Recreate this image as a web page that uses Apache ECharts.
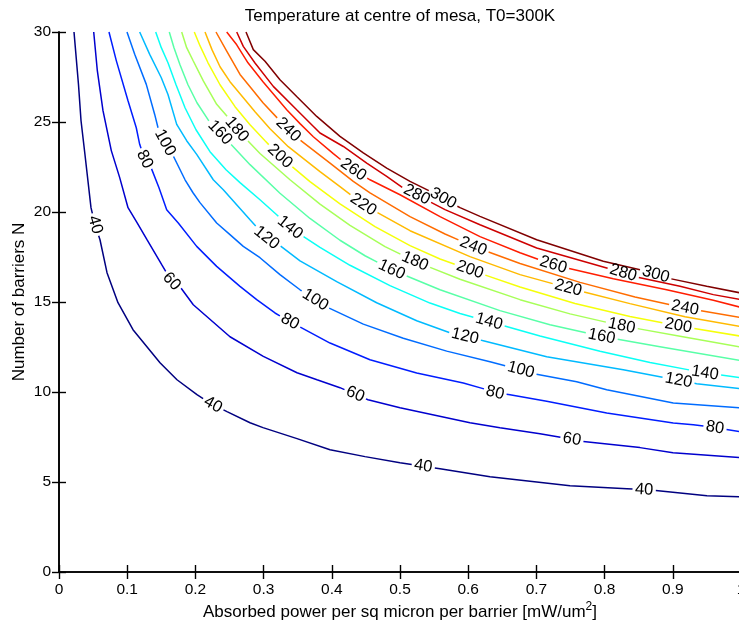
<!DOCTYPE html>
<html>
<head>
<meta charset="utf-8">
<title>Temperature at centre of mesa</title>
<script src="https://cdn.jsdelivr.net/npm/echarts@6/dist/echarts.min.js"></script>
<style>
  html, body { margin: 0; padding: 0; background: #fff; }
  #chart { width: 739px; height: 624px; }
</style>
</head>
<body>
<div id="chart"></div>
<script>
const FONT = 'Liberation Sans, Arial, Helvetica, sans-serif'

// contour levels (temperature rise, K) and their jet colours
const levels = [40, 60, 80, 100, 120, 140, 160, 180, 200, 220, 240, 260, 280, 300]
const colors = ['#000080', '#0000ce', '#001dff', '#006cff', '#00baff', '#0affF5', '#58ffa7',
  '#a7ff58', '#f5ff0a', '#ffba00', '#ff6c00', '#ff1d00', '#ce0000', '#800000']

// contour lines: [absorbed power, N]
const c40 = [[0.022, 30], [0.0286, 27.07], [0.0323, 25.07], [0.0381, 23.18], [0.0469, 20.24], [0.0528, 19.29],
  [0.0601, 18.46], [0.0704, 16.63], [0.0865, 14.96], [0.1085, 13.46], [0.1481, 11.63], [0.173, 10.68],
  [0.2023, 9.85], [0.2258, 9.29], [0.2463, 8.91], [0.2801, 8.29], [0.2991, 8.02], [0.349, 7.41],
  [0.3974, 6.79], [0.4487, 6.41], [0.5, 6.07], [0.5587, 5.74], [0.632, 5.29], [0.7493, 4.79],
  [0.8328, 4.63], [0.8768, 4.52], [0.9501, 4.24], [1, 4.18]]
const c60 = [[0.0509, 30], [0.0562, 27.85], [0.0645, 25.63], [0.0767, 23.41], [0.089, 21.91], [0.1012, 20.24],
  [0.1144, 19.41], [0.129, 18.46], [0.1506, 17.07], [0.1652, 16.14], [0.1799, 15.74], [0.1969, 14.85],
  [0.2507, 13.07], [0.2996, 11.98], [0.349, 11.07], [0.3783, 10.68], [0.412, 10.24], [0.4531, 9.57],
  [0.5, 9.13], [0.6026, 8.29], [0.6466, 8.02], [0.7053, 7.68], [0.7713, 7.24], [0.8519, 6.91],
  [0.9003, 6.63], [1, 6.35]]
const c80 = [[0.0733, 30], [0.084, 28.41], [0.1012, 26.18], [0.1133, 24.68], [0.1183, 23.76], [0.1256, 22.92],
  [0.1378, 22.29], [0.1466, 21.35], [0.1579, 20.13], [0.1749, 19.39], [0.2019, 18.09], [0.2312, 16.98],
  [0.2654, 15.87], [0.2899, 15.13], [0.3167, 14.39], [0.3387, 13.91], [0.3559, 13.56], [0.3974, 12.72],
  [0.456, 11.79], [0.5245, 11.06], [0.5928, 10.5], [0.6271, 10.13], [0.6393, 9.96], [0.6613, 9.85],
  [0.7151, 9.48], [0.8031, 8.83], [0.9007, 8.28], [0.9301, 8.18], [0.9619, 8.02], [0.979, 7.91], [1, 7.79]]
const c100 = [[0.0997, 30], [0.111, 28.76], [0.128, 27.09], [0.1403, 25.42], [0.1452, 24.68], [0.1554, 23.85],
  [0.1676, 23.11], [0.1848, 21.79], [0.1965, 21.07], [0.2067, 20.52], [0.2312, 19.39], [0.2507, 18.74],
  [0.2702, 18.09], [0.2947, 17.46], [0.324, 16.52], [0.3534, 15.68], [0.3729, 15.18], [0.3974, 14.63],
  [0.4462, 13.77], [0.5048, 12.99], [0.5685, 12.27], [0.632, 11.68], [0.676, 11.24], [0.7028, 10.96],
  [0.7591, 10.57], [0.8031, 10.13], [0.9007, 9.39], [1, 9.11]]
const c120 = [[0.1183, 30], [0.133, 28.76], [0.15, 27.46], [0.1598, 26.53], [0.1726, 24.87], [0.1872, 23.96],
  [0.2019, 23.2], [0.2262, 21.79], [0.2409, 21.24], [0.2801, 19.57], [0.3045, 18.56], [0.3265, 18.07],
  [0.3534, 17.29], [0.4072, 16.13], [0.4658, 14.96], [0.5245, 13.96], [0.5733, 13.29], [0.6221, 12.85],
  [0.7151, 11.96], [0.8274, 11.24], [0.8886, 10.79], [0.935, 10.46], [1, 10.18]]
const c140 = [[0.1418, 30], [0.15, 29.13], [0.1598, 28.29], [0.1716, 27.07], [0.1848, 25.79], [0.2009, 24.57],
  [0.2214, 23.35], [0.2449, 22.35], [0.2654, 21.63], [0.2947, 20.68], [0.3192, 19.85], [0.3387, 19.13],
  [0.3827, 18.03], [0.4267, 17.04], [0.4853, 15.91], [0.544, 14.94], [0.588, 14.36], [0.6305, 13.91],
  [0.7053, 13.11], [0.7933, 12.26], [0.8666, 11.64], [0.9472, 11.06], [1, 10.79]]
const c160 = [[0.1617, 30], [0.1686, 29.13], [0.1774, 28.18], [0.1891, 27.07], [0.2023, 26.07], [0.2185, 25.13],
  [0.2361, 24.41], [0.2801, 22.63], [0.324, 21.04], [0.368, 19.64], [0.412, 18.43], [0.4487, 17.57],
  [0.4878, 16.79], [0.5587, 15.68], [0.6466, 14.52], [0.7199, 13.74], [0.7957, 13.09], [0.8812, 12.52],
  [1, 11.74]]
const c180 = [[0.1799, 30], [0.1872, 29.13], [0.1969, 28.39], [0.2116, 27.28], [0.2312, 25.98], [0.2482, 25.24],
  [0.2606, 24.59], [0.2947, 23.25], [0.3387, 21.79], [0.3827, 20.44], [0.4267, 19.26], [0.478, 18.08],
  [0.522, 17.26], [0.588, 16.26], [0.676, 15.13], [0.7493, 14.34], [0.8251, 13.68], [0.9106, 13.1],
  [1, 12.49]]
const c200 = [[0.1984, 30], [0.2067, 29.24], [0.2185, 28.29], [0.2361, 27.07], [0.2581, 25.85], [0.2801, 24.85],
  [0.3021, 23.96], [0.324, 23.09], [0.368, 21.69], [0.412, 20.45], [0.4633, 19.19], [0.5147, 18.13],
  [0.5587, 17.39], [0.6026, 16.79], [0.676, 15.83], [0.7566, 14.92], [0.8372, 14.19], [0.9081, 13.68],
  [1, 13.1]]
const c220 = [[0.2141, 30], [0.2243, 29.02], [0.2361, 28.07], [0.2507, 27.24], [0.2654, 26.57], [0.2874, 25.57],
  [0.3094, 24.63], [0.3362, 23.63], [0.3827, 22.24], [0.412, 21.41], [0.4462, 20.41], [0.5147, 18.96],
  [0.6026, 17.52], [0.676, 16.52], [0.7468, 15.78], [0.8372, 14.91], [0.9179, 14.18], [1, 13.63]]
const c240 = [[0.2302, 30], [0.2459, 28.94], [0.2654, 27.64], [0.2801, 26.96], [0.2991, 26.07], [0.3211, 25.18],
  [0.3362, 24.57], [0.3559, 23.92], [0.3974, 22.72], [0.4315, 21.7], [0.456, 21.06], [0.5147, 19.74],
  [0.566, 18.78], [0.6075, 18.09], [0.676, 17.14], [0.7639, 16.09], [0.8446, 15.28], [0.9179, 14.67],
  [1, 14.13]]
const c260 = [[0.2459, 30], [0.2606, 29.29], [0.2771, 28.29], [0.2991, 27.24], [0.3339, 25.68], [0.3534, 24.91],
  [0.3729, 24.18], [0.4022, 23.24], [0.4315, 22.35], [0.456, 21.79], [0.5, 20.96], [0.5587, 19.74],
  [0.6173, 18.63], [0.676, 17.74], [0.7248, 17.07], [0.7493, 16.85], [0.8128, 16.29], [0.891, 15.68],
  [0.9594, 15.1], [1, 14.7]]
const c280 = [[0.2606, 30], [0.2702, 29.2], [0.2874, 28.28], [0.3142, 26.98], [0.3485, 25.68], [0.3827, 24.39],
  [0.4169, 23.64], [0.4512, 22.72], [0.4805, 21.98], [0.5048, 21.33], [0.5245, 20.96], [0.566, 20.13],
  [0.6173, 19.29], [0.7004, 18.0], [0.8031, 16.89], [0.8471, 16.39], [0.9106, 15.87], [0.9594, 15.41],
  [1, 15.13]]
const c300 = [[0.2742, 30], [0.2849, 29.02], [0.3021, 28.37], [0.324, 27.35], [0.3485, 26.42], [0.3779, 25.31],
  [0.412, 24.2], [0.4462, 23.28], [0.4805, 22.44], [0.5147, 21.7], [0.5488, 21.06], [0.588, 20.24],
  [0.6173, 19.76], [0.7004, 18.46], [0.7981, 17.26], [0.8519, 16.79], [0.8984, 16.28], [0.9497, 15.87],
  [1, 15.5]]

// where the inline labels sit
const lab40 = [[0.0528, 19.29], [0.2258, 9.29], [0.5338, 5.8], [0.8578, 4.45]]
const lab60 = [[0.1652, 16.14], [0.434, 9.85], [0.752, 7.35]]
const lab80 = [[0.1256, 22.92], [0.3387, 13.91], [0.6393, 9.96], [0.9619, 8.02]]
const lab100 = [[0.1496, 23.74], [0.3729, 14.94], [0.676, 11.06]]
const lab120 = [[0.3045, 18.56], [0.5953, 13.09], [0.9081, 10.59]]
const lab140 = [[0.3387, 19.13], [0.6305, 13.91], [0.9472, 11.06]]
const lab160 = [[0.2361, 24.41], [0.4878, 16.79], [0.7957, 13.09]]
const lab180 = [[0.2606, 24.59], [0.522, 17.26], [0.8251, 13.68]]
const lab200 = [[0.324, 23.09], [0.6026, 16.79], [0.9081, 13.68]]
const lab220 = [[0.4462, 20.41], [0.7468, 15.78]]
const lab240 = [[0.3362, 24.57], [0.6075, 18.09], [0.9179, 14.67]]
const lab260 = [[0.4315, 22.35], [0.7248, 17.07]]
const lab280 = [[0.5245, 20.96], [0.8274, 16.63]]
const lab300 = [[0.563, 20.74], [0.8739, 16.39]]

const lines = [c40, c60, c80, c100, c120, c140, c160, c180, c200, c220, c240, c260, c280, c300]
const labels = [lab40, lab60, lab80, lab100, lab120, lab140, lab160, lab180, lab200, lab220, lab240, lab260, lab280, lab300]

const LABEL_SIZE = 16.5
const LINE_W = 1.5

const chart = echarts.init(document.getElementById('chart'))

const axisLineStyle = { lineStyle: { color: '#000', width: 1.6 } }
const tickStyle = { inside: true, length: 7, lineStyle: { color: '#000', width: 1.4 } }

chart.setOption({
  animation: false,
  backgroundColor: '#fff',
  title: {
    text: 'Temperature at centre of mesa, T0=300K',
    left: 395,
    textAlign: 'center',
    top: 3,
    textStyle: { fontFamily: FONT, fontSize: 17, fontWeight: 'normal', color: '#000' }
  },
  // the plot box runs slightly past the right edge of the window, as in the original
  grid: { left: 59, top: 32, width: 682, height: 540, outerBoundsMode: 'none', containLabel: false },
  xAxis: [
    {
      type: 'value', min: 0, max: 1, interval: 0.1,
      name: 'Absorbed power per sq micron per barrier [mW/um{sup|2}]',
      nameLocation: 'middle', nameGap: 29, nameMoveOverlap: false,
      nameTextStyle: {
        fontFamily: FONT, fontSize: 17, color: '#000',
        rich: { sup: { fontFamily: FONT, fontSize: 12, color: '#000', padding: [0, 0, 10, 0] } }
      },
      axisLine: axisLineStyle,
      axisTick: tickStyle,
      splitLine: { show: false },
      axisLabel: {
        fontFamily: FONT, fontSize: 15.5, color: '#000', margin: 10,
        showMinLabel: true, showMaxLabel: true, hideOverlap: false,
        formatter: v => (v === 0 || v === 1) ? String(v) : v.toFixed(1)
      }
    },
    {
      type: 'value', min: 0, max: 1, interval: 0.1, position: 'top',
      axisLine: axisLineStyle, axisTick: tickStyle,
      splitLine: { show: false }, axisLabel: { show: false }
    }
  ],
  yAxis: [
    {
      type: 'value', min: 0, max: 30, interval: 5,
      name: 'Number of barriers N',
      nameLocation: 'middle', nameGap: 31, nameMoveOverlap: false,
      nameTextStyle: { fontFamily: FONT, fontSize: 17, color: '#000' },
      axisLine: axisLineStyle,
      axisTick: tickStyle,
      splitLine: { show: false },
      axisLabel: { fontFamily: FONT, fontSize: 15.5, color: '#000', margin: 8 }
    },
    {
      type: 'value', min: 0, max: 30, interval: 5, position: 'right',
      axisLine: axisLineStyle, axisTick: tickStyle,
      splitLine: { show: false }, axisLabel: { show: false }
    }
  ],
  series: []
})

// cut each contour around its labels, like clabel does
const ctx = document.createElement('canvas').getContext('2d')
ctx.font = LABEL_SIZE + 'px ' + FONT

function pointAt(pts, cum, s) {
  s = Math.max(0, Math.min(cum[cum.length - 1], s))
  let k = 0
  while (k < cum.length - 2 && cum[k + 1] < s) k++
  const seg = cum[k + 1] - cum[k] || 1
  const t = (s - cum[k]) / seg
  return [pts[k][0] + t * (pts[k + 1][0] - pts[k][0]), pts[k][1] + t * (pts[k + 1][1] - pts[k][1])]
}

function project(pts, cum, q) {
  let best = { d: Infinity, s: 0 }
  for (let k = 0; k < pts.length - 1; k++) {
    const a = pts[k], b = pts[k + 1]
    const dx = b[0] - a[0], dy = b[1] - a[1]
    const len2 = dx * dx + dy * dy || 1
    let t = ((q[0] - a[0]) * dx + (q[1] - a[1]) * dy) / len2
    t = Math.max(0, Math.min(1, t))
    const x = a[0] + t * dx, y = a[1] + t * dy
    const d = (x - q[0]) ** 2 + (y - q[1]) ** 2
    if (d < best.d) best = { d, s: cum[k] + t * Math.sqrt(len2) }
  }
  return best.s
}

const toPx = p => chart.convertToPixel({ gridIndex: 0 }, p)
const toData = p => chart.convertFromPixel({ gridIndex: 0 }, p)

const series = []
const labelData = []

levels.forEach((lv, i) => {
  const pts = lines[i].map(toPx)
  const cum = [0]
  for (let k = 1; k < pts.length; k++) {
    cum.push(cum[k - 1] + Math.hypot(pts[k][0] - pts[k - 1][0], pts[k][1] - pts[k - 1][1]))
  }
  const total = cum[cum.length - 1]
  const half = ctx.measureText(String(lv)).width / 2 + 2.5

  const gaps = labels[i].map(q => {
    const s = project(pts, cum, toPx(q))
    const a = pointAt(pts, cum, s - 10), b = pointAt(pts, cum, s + 10)
    let rot = -Math.atan2(b[1] - a[1], b[0] - a[0]) * 180 / Math.PI
    if (rot > 90) rot -= 180
    if (rot < -90) rot += 180
    labelData.push({
      value: toData(pointAt(pts, cum, s)),
      label: { formatter: String(lv), rotate: rot }
    })
    return [s - half, s + half]
  }).sort((a, b) => a[0] - b[0])

  let start = 0
  const pieces = []
  gaps.forEach(g => { pieces.push([start, g[0]]); start = g[1] })
  pieces.push([start, total])

  pieces.forEach(([s0, s1]) => {
    if (s1 - s0 < 0.5) return
    const seg = [pointAt(pts, cum, s0)]
    for (let k = 0; k < pts.length; k++) if (cum[k] > s0 && cum[k] < s1) seg.push(pts[k])
    seg.push(pointAt(pts, cum, s1))
    series.push({
      type: 'line',
      name: String(lv),
      data: seg.map(toData),
      showSymbol: false,
      symbol: 'none',
      silent: true,
      clip: false,
      z: 2,
      lineStyle: { color: colors[i], width: LINE_W }
    })
  })
})

series.push({
  type: 'scatter',
  data: labelData,
  symbolSize: 1,
  silent: true,
  z: 3,
  itemStyle: { color: 'rgba(0,0,0,0)' },
  label: {
    show: true,
    position: 'inside',
    fontFamily: FONT,
    fontSize: LABEL_SIZE,
    color: '#000',
    textBorderWidth: 0,
    opacity: 1
  }
})

chart.setOption({ series })
</script>
</body>
</html>
